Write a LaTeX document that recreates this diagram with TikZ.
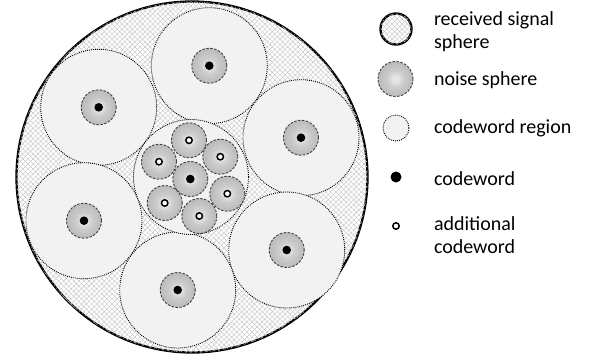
\documentclass[tikz,border=0pt]{standalone}
\usepackage{fontspec}
\setmainfont{Carlito}
\usetikzlibrary{patterns.meta}
\definecolor{nsin}{gray}{0.90}
\definecolor{nsmid}{gray}{0.80}
\definecolor{nsout}{gray}{0.73}
\definecolor{regfill}{gray}{0.95}
\definecolor{hatchcol}{gray}{0.78}
\pgfdeclareradialshading{noiseshade}{\pgfpoint{0bp}{0bp}}{color(0bp)=(nsin); color(4bp)=(nsin); color(12bp)=(nsmid); color(25bp)=(nsout); color(50bp)=(nsout)}
\begin{document}
\begin{tikzpicture}[x=1pt,y=-1pt,
  sigsphere/.style={circle,draw=black,fill=white,inner sep=0pt,outer sep=0pt,
    postaction={pattern={Lines[angle=45,distance=3.6pt,line width=0.45pt]},pattern color=hatchcol},
    postaction={pattern={Lines[angle=-45,distance=3.6pt,line width=0.45pt]},pattern color=hatchcol}},
  region/.style={circle,draw=black,dash pattern=on 0.9pt off 1.1pt,line width=0.9pt,fill=regfill,
    minimum size=116pt,inner sep=0pt,outer sep=0pt},
  noise/.style={circle,draw=black!75,dash pattern=on 2.5pt off 1.5pt,line width=0.9pt,
    shading=noiseshade,minimum size=35pt,inner sep=0pt,outer sep=0pt},
  cw/.style={circle,fill=black,minimum size=8.6pt,inner sep=0pt,outer sep=0pt},
  acw/.style={circle,draw=black,fill=white,line width=1.5pt,minimum size=6.4pt,inner sep=0pt,outer sep=0pt},
  legtext/.style={anchor=base west,inner sep=0pt,outer sep=0pt,align=left,
    font=\fontsize{20}{23}\selectfont}]
\useasboundingbox (0,0) rectangle (589,360);
% received signal sphere
\node[sigsphere,line width=2.3pt,minimum size=351pt] (sig) at (192,177) {};
% codeword regions
\node[region] (r1) at (209.3,65.7) {};
\node[region] (r2) at (98.7,107.3) {};
\node[region] (r3) at (301,137.7) {};
\node[region] (r4) at (84,220.7) {};
\node[region] (r5) at (286.7,250) {};
\node[region] (r6) at (177.7,290) {};
\node[region,minimum size=115pt] (rc) at (191,177) {};
% noise spheres in outer regions
\foreach \n in {r1,r2,r3,r4,r5,r6}{
  \node[noise] (\n n) at (\n.center) {};
  \node[cw] (\n c) at (\n.center) {};
}
% central cluster
\node[noise] (c0) at (190.3,179) {};
\node[cw] (c0d) at (c0.center) {};
\node[noise] (c1) at (189,140.3) {};
\node[noise] (c2) at (220.3,156.7) {};
\node[noise] (c3) at (159,161.7) {};
\node[noise] (c4) at (227.3,193.7) {};
\node[noise] (c5) at (164.7,203) {};
\node[noise] (c6) at (199.3,216) {};
\foreach \n in {c1,c2,c3,c4,c5,c6}{
  \node[acw] (\n d) at (\n.center) {};
}
% legend
\node[sigsphere,line width=2.4pt,minimum size=31pt] (lsig) at (396,29) {};
\node[noise] (lnoise) at (395.5,79) {};
\node[region,minimum size=26pt] (lreg) at (396,128) {};
\node[cw,minimum size=11pt] (lcw) at (396,177) {};
\node[acw] (lacw) at (396,226) {};
\node[legtext] (t1) at (434,48) {received signal\\sphere};
\node[legtext] (t2) at (434,85) {noise sphere};
\node[legtext] (t3) at (434,133) {codeword region};
\node[legtext] (t4) at (434,185) {codeword};
\node[legtext] (t5) at (434,253) {additional\\codeword};
\end{tikzpicture}
\end{document}
